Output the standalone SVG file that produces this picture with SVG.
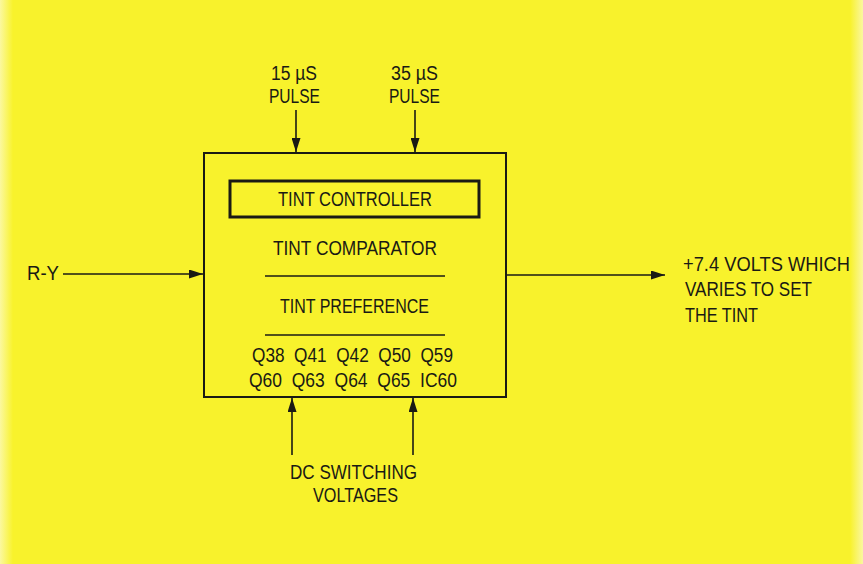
<svg xmlns="http://www.w3.org/2000/svg" width="863" height="564" viewBox="0 0 863 564">
<defs>
<style>
text{font-family:"Liberation Sans","DejaVu Sans",sans-serif;font-size:19.5px;fill:#1a1a14;}
.ln{stroke:#1a1a14;stroke-width:1.6;fill:none;}
.box{stroke:#1a1a14;stroke-width:2;fill:none;}
</style>
<marker id="ah" viewBox="0 0 14 9" refX="14" refY="4.5" markerWidth="14" markerHeight="9" markerUnits="userSpaceOnUse" orient="auto">
<path d="M0,0 L14,4.5 L0,9 z" fill="#1a1a14"/>
</marker>
<linearGradient id="edge" x1="0" x2="1" y1="0" y2="0">
<stop offset="0" stop-color="#fbf8a0"/>
<stop offset="0.015" stop-color="#f8f22c"/>
<stop offset="0.985" stop-color="#f8f22c"/>
<stop offset="1" stop-color="#faf7a0"/>
</linearGradient>
</defs>
<rect x="0" y="0" width="863" height="564" fill="url(#edge)"/>

<g id="tint-block">
<rect class="box" x="204" y="153" width="302" height="244"/>
<rect x="230" y="181" width="249" height="36" fill="none" stroke="#1a1a14" stroke-width="3"/>
<text x="278" y="206" textLength="154" lengthAdjust="spacingAndGlyphs">TINT CONTROLLER</text>
<text x="273" y="255" textLength="164" lengthAdjust="spacingAndGlyphs">TINT COMPARATOR</text>
<line class="ln" x1="265" y1="276" x2="445" y2="276"/>
<text x="280" y="313" textLength="149" lengthAdjust="spacingAndGlyphs">TINT PREFERENCE</text>
<line class="ln" x1="265" y1="335" x2="445" y2="335"/>
<text x="252" y="362" textLength="201" lengthAdjust="spacingAndGlyphs" xml:space="preserve">Q38  Q41  Q42  Q50  Q59</text>
<text x="249" y="387" textLength="208" lengthAdjust="spacingAndGlyphs" xml:space="preserve">Q60  Q63  Q64  Q65  IC60</text>
</g>

<g id="pulse15">
<text x="271" y="80" textLength="46" lengthAdjust="spacingAndGlyphs">15 µS</text>
<text x="269" y="103" textLength="51" lengthAdjust="spacingAndGlyphs">PULSE</text>
</g>
<g id="pulse35">
<text x="391" y="80" textLength="47" lengthAdjust="spacingAndGlyphs">35 µS</text>
<text x="389" y="103" textLength="51" lengthAdjust="spacingAndGlyphs">PULSE</text>
</g>
<g id="ry">
<text x="27" y="280" textLength="32" lengthAdjust="spacingAndGlyphs">R-Y</text>
</g>
<g id="output">
<text x="683" y="271" textLength="167" lengthAdjust="spacingAndGlyphs">+7.4  VOLTS WHICH</text>
<text x="685" y="296" textLength="127" lengthAdjust="spacingAndGlyphs">VARIES TO SET</text>
<text x="685" y="322" textLength="73" lengthAdjust="spacingAndGlyphs">THE TINT</text>
</g>
<g id="dc">
<text x="290" y="479" textLength="127" lengthAdjust="spacingAndGlyphs">DC SWITCHING</text>
<text x="313" y="502" textLength="85" lengthAdjust="spacingAndGlyphs">VOLTAGES</text>
</g>

<g id="connectors">
<line class="ln" x1="296" y1="110" x2="296" y2="152" marker-end="url(#ah)"/>
<line class="ln" x1="415" y1="110" x2="415" y2="152" marker-end="url(#ah)"/>
<line class="ln" x1="63" y1="274" x2="203" y2="274" marker-end="url(#ah)"/>
<line class="ln" x1="507" y1="275" x2="665" y2="275" marker-end="url(#ah)"/>
<line class="ln" x1="292" y1="455" x2="292" y2="398" marker-end="url(#ah)"/>
<line class="ln" x1="413" y1="455" x2="413" y2="398" marker-end="url(#ah)"/>
</g>
</svg>
